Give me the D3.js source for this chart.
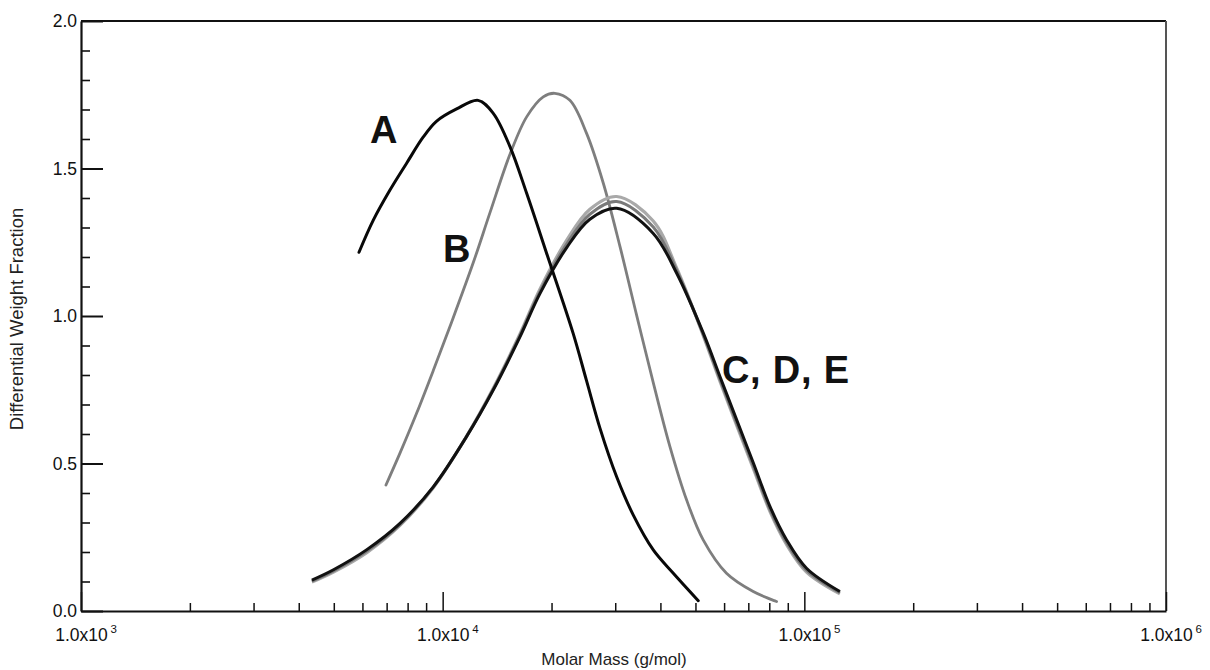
<!DOCTYPE html>
<html>
<head>
<meta charset="utf-8">
<script src="https://cdn.jsdelivr.net/npm/d3@7"></script>
<style>
    body { margin: 0; background: #fff; }
    svg { display: block; font-family: "Liberation Sans", Arial, sans-serif; }
</style>
</head>
<body>
<div id="chart"></div>
<script>
// molar mass (g/mol) and differential weight fraction
var massA = [5870, 6430, 7150, 7950, 8830, 9610, 10930, 12530, 13800, 15350, 17070, 19380, 22950, 25000, 27220, 30270, 33660, 38220, 43420, 50900];
var weightA = [1.216, 1.325, 1.427, 1.518, 1.606, 1.660, 1.702, 1.731, 1.687, 1.574, 1.416, 1.213, 0.941, 0.780, 0.620, 0.455, 0.325, 0.207, 0.128, 0.035];

var massB = [6970, 7620, 8470, 9420, 10590, 12160, 13530, 15350, 17070, 18970, 20430, 22480, 25000, 27810, 30930, 34360, 38220, 42460, 47270, 52520, 60920, 72230, 83800];
var weightB = [0.427, 0.535, 0.670, 0.815, 0.980, 1.182, 1.352, 1.548, 1.675, 1.743, 1.755, 1.731, 1.619, 1.450, 1.235, 1.004, 0.774, 0.559, 0.376, 0.241, 0.128, 0.066, 0.032];

var massCDE = [4350, 4990, 6170, 7620, 9420, 11640, 13800, 16370, 18560, 22030, 25530, 30270, 38220, 44370, 52600, 58460, 65040, 72330, 80370, 89330, 101400, 125400];
var weightC = [0.105, 0.140, 0.208, 0.297, 0.421, 0.591, 0.749, 0.930, 1.075, 1.232, 1.328, 1.365, 1.280, 1.145, 0.941, 0.794, 0.647, 0.501, 0.354, 0.241, 0.145, 0.066];
var weightD = [0.101, 0.136, 0.203, 0.293, 0.420, 0.592, 0.752, 0.935, 1.082, 1.244, 1.345, 1.388, 1.302, 1.155, 0.936, 0.785, 0.636, 0.490, 0.344, 0.232, 0.138, 0.062];
var weightE = [0.098, 0.132, 0.198, 0.290, 0.418, 0.592, 0.755, 0.940, 1.090, 1.257, 1.362, 1.405, 1.322, 1.162, 0.932, 0.778, 0.628, 0.482, 0.337, 0.225, 0.132, 0.058];

var xMajorTicks = [1e3, 1e4, 1e5, 1e6];
var xTickExponents = ["3", "4", "5", "6"];
var yMajorTicks = [0, 0.5, 1, 1.5, 2];

var curveNames = ["A", "B", "C, D, E"];
var curveNameMass = [6300, 10020, 59160];
var curveNameWeight = [1.586, 1.183, 0.773];

var width = 1210, height = 670;
var plotLeft = 81, plotRight = 1166, plotTop = 21, plotBottom = 611;
var font = "Liberation Sans, Arial, sans-serif";

var x = d3.scaleLog().domain([1e3, 1e6]).range([plotLeft, plotRight]);
var y = d3.scaleLinear().domain([0, 2]).range([plotBottom, plotTop]);

var svg = d3.select("#chart")
    .append("svg")
    .attr("width", width)
    .attr("height", height);

// frame: top black, right grey
svg.append("line")
    .attr("x1", plotLeft).attr("x2", plotRight).attr("y1", plotTop).attr("y2", plotTop)
    .attr("stroke", "#111").attr("stroke-width", 2);
svg.append("line")
    .attr("x1", plotRight).attr("x2", plotRight).attr("y1", plotTop).attr("y2", plotBottom)
    .attr("stroke", "#555").attr("stroke-width", 2);

// y axis, ticks pointing inward
var yMinor = y.ticks(20).filter(function (d) { return yMajorTicks.indexOf(Math.round(d * 10) / 10) < 0; });
svg.append("g")
    .attr("transform", "translate(" + plotLeft + ",0)")
    .call(d3.axisLeft(y).tickValues(yMinor).tickSize(-9).tickFormat(""))
    .call(function (g) { g.select(".domain").remove(); })
    .selectAll("line").attr("stroke-width", 1.6).attr("stroke", "#111");

var yAxis = svg.append("g")
    .attr("transform", "translate(" + plotLeft + ",0)")
    .call(d3.axisLeft(y).tickValues(yMajorTicks).tickSize(-22).tickPadding(4).tickSizeOuter(0)
        .tickFormat(d3.format(".1f")));
yAxis.select(".domain").attr("stroke", "#111").attr("stroke-width", 2.2);
yAxis.selectAll("line").attr("stroke", "#111").attr("stroke-width", 2);
yAxis.selectAll("text").attr("font-size", 17.5).attr("fill", "#111").attr("font-family", font);

// x axis, log scale, ticks pointing inward
var xMinor = x.ticks().filter(function (d) { return xMajorTicks.indexOf(d) < 0; });
svg.append("g")
    .attr("transform", "translate(0," + plotBottom + ")")
    .call(d3.axisBottom(x).tickValues(xMinor).tickSize(-8).tickFormat(""))
    .call(function (g) { g.select(".domain").remove(); })
    .selectAll("line").attr("stroke-width", 1.5).attr("stroke", "#111");

var xAxis = svg.append("g")
    .attr("transform", "translate(0," + plotBottom + ")")
    .call(d3.axisBottom(x).tickValues(xMajorTicks).tickSize(-19).tickPadding(18).tickSizeOuter(0)
        .tickFormat(function () { return "1.0x10"; }));
xAxis.select(".domain").attr("stroke", "#111").attr("stroke-width", 2.2);
xAxis.selectAll("line").attr("stroke", "#111").attr("stroke-width", 1.5);
xAxis.selectAll("text").attr("font-size", 17.5).attr("fill", "#111").attr("font-family", font);
xAxis.selectAll(".tick").each(function (d, i) {
    var tick = d3.select(this);
    var w = tick.select("text").node().getComputedTextLength();
    tick.append("text")
        .attr("x", w / 2 + 6)
        .attr("y", 22)
        .attr("font-size", 11.5)
        .attr("fill", "#111")
        .attr("font-family", font)
        .text(xTickExponents[i]);
});

// axis titles
svg.append("text")
    .attr("transform", "translate(23," + 319 + ") rotate(-90)")
    .attr("text-anchor", "middle")
    .attr("font-size", 18.5)
    .attr("fill", "#222")
    .text("Differential Weight Fraction");

svg.append("text")
    .attr("x", 614)
    .attr("y", 665)
    .attr("text-anchor", "middle")
    .attr("font-size", 17)
    .attr("fill", "#222")
    .text("Molar Mass (g/mol)");

// curves, greys first so the black ones sit on top
var series = [
    {mass: massB, weight: weightB, color: "#7e7e7e", width: 2.8, cap: "round"},
    {mass: massCDE, weight: weightE, color: "#a9a9a9", width: 3.2, cap: "butt"},
    {mass: massCDE, weight: weightD, color: "#7a7a7a", width: 3, cap: "butt"},
    {mass: massCDE, weight: weightC, color: "#111", width: 3, cap: "butt"},
    {mass: massA, weight: weightA, color: "#080808", width: 3, cap: "round"}
];

var line = d3.line()
    .x(function (d) { return x(d[0]); })
    .y(function (d) { return y(d[1]); })
    .curve(d3.curveCatmullRom.alpha(0.5));

svg.append("g").selectAll("path")
    .data(series)
    .enter()
    .append("path")
        .attr("fill", "none")
        .attr("stroke", function (s) { return s.color; })
        .attr("stroke-width", function (s) { return s.width; })
        .attr("stroke-linecap", function (s) { return s.cap; })
        .attr("stroke-linejoin", "round")
        .attr("d", function (s) { return line(d3.zip(s.mass, s.weight)); });

// curve names
svg.append("g").selectAll("text")
    .data(curveNames)
    .enter()
    .append("text")
        .attr("x", function (d, i) { return x(curveNameMass[i]); })
        .attr("y", function (d, i) { return y(curveNameWeight[i]); })
        .attr("font-size", 38)
        .attr("font-weight", "bold")
        .attr("letter-spacing", 0.8)
        .attr("fill", "#111")
        .text(function (d) { return d; });
</script>
</body>
</html>
